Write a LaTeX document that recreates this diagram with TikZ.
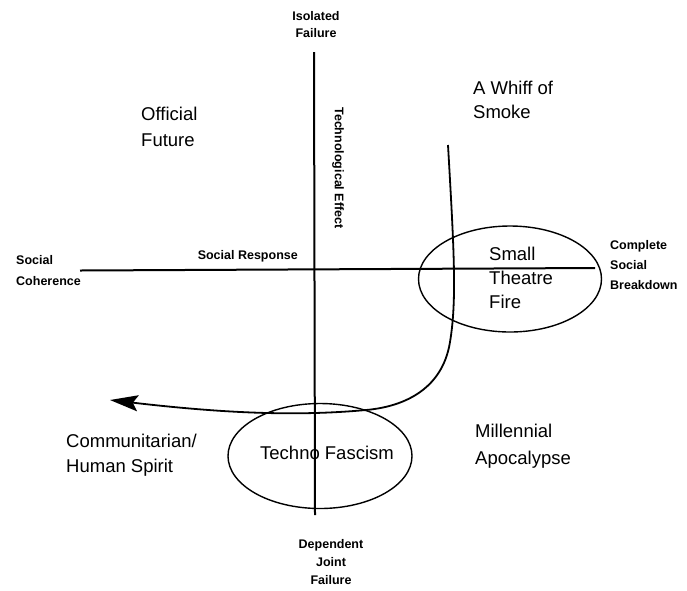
\documentclass[tikz,border=0pt]{standalone}
\usepackage{fontspec}
\setmainfont{Liberation Sans}
\usetikzlibrary{shapes.geometric,arrows.meta}
\begin{document}
\begin{tikzpicture}[x=1pt,y=-1pt,
  bigl/.style={inner sep=0pt,align=left,font=\fontsize{18.5}{26}\selectfont},
  smalll/.style={inner sep=0pt,font=\bfseries\fontsize{12.5}{19.5}\selectfont},
  axisline/.style={line width=2pt},
  ring/.style={draw,ellipse,line width=1.4pt,inner sep=0pt},
  pathline/.style={line width=1.8pt,-{Stealth[length=28pt,width=16pt,inset=5pt]}}]
\useasboundingbox (0,0) rectangle (687,590);
% axes
\coordinate (vtop) at (314,52);
\coordinate (vbot) at (315,515);
\coordinate (hl) at (80,270.5);
\coordinate (hr) at (595,268);
\draw[axisline] (vtop) -- (vbot);
\draw[axisline] (hl) -- (hr);
% ellipses
\node[ring,minimum width=183pt,minimum height=106pt] (stf) at (510,279) {};
\node[ring,minimum width=184pt,minimum height=105pt] (tf) at (320,456) {};
% path with arrow
\coordinate (cstart) at (448,145);
\coordinate (cbend) at (450,342);
\coordinate (cjoin) at (366,410);
\coordinate (ctip) at (110,400);
\draw[pathline] (cstart) .. controls (454,250) and (457,300) .. (cbend)
  .. controls (442,392) and (400,407) .. (cjoin)
  .. controls (300,416) and (230,414) .. (ctip);
% axis labels
\node[smalll,align=center,font=\bfseries\fontsize{12.5}{17.5}\selectfont] (iso) at (316,24.5) {Isolated\\Failure};
\node[smalll,align=center,font=\bfseries\fontsize{12.5}{18}\selectfont] (djf) at (331,562) {Dependent\\Joint\\Failure};
\node[smalll,align=left,anchor=west,font=\bfseries\fontsize{12.5}{21}\selectfont] (sc) at (16,271) {Social\\Coherence};
\node[smalll,align=left,anchor=west,font=\bfseries\fontsize{12.5}{20}\selectfont] (csb) at (610,265) {Complete\\Social\\Breakdown};
\node[smalll,anchor=east] (sr) at (298,256) {Social Response};
\node[smalll,rotate=-90] (te) at (338,168) {Technological Effect};
% scenario labels
\node[bigl,anchor=west] (of) at (141,126.5) {Official\\Future};
\node[bigl,anchor=west,font=\fontsize{18.5}{24}\selectfont] (ws) at (473,100) {A Whiff of\\Smoke};
\node[bigl,anchor=west,font=\fontsize{18.5}{24}\selectfont] (stft) at (489,278) {Small\\Theatre\\Fire};
\node[bigl,anchor=west,font=\fontsize{18.5}{25}\selectfont] (chs) at (66,455.5) {Communitarian/\\Human Spirit};
\node[bigl,anchor=west,font=\fontsize{18.5}{27}\selectfont] (ma) at (475,446) {Millennial\\Apocalypse};
\node[bigl] (tft) at (327,453) {Techno Fascism};
\end{tikzpicture}
\end{document}
